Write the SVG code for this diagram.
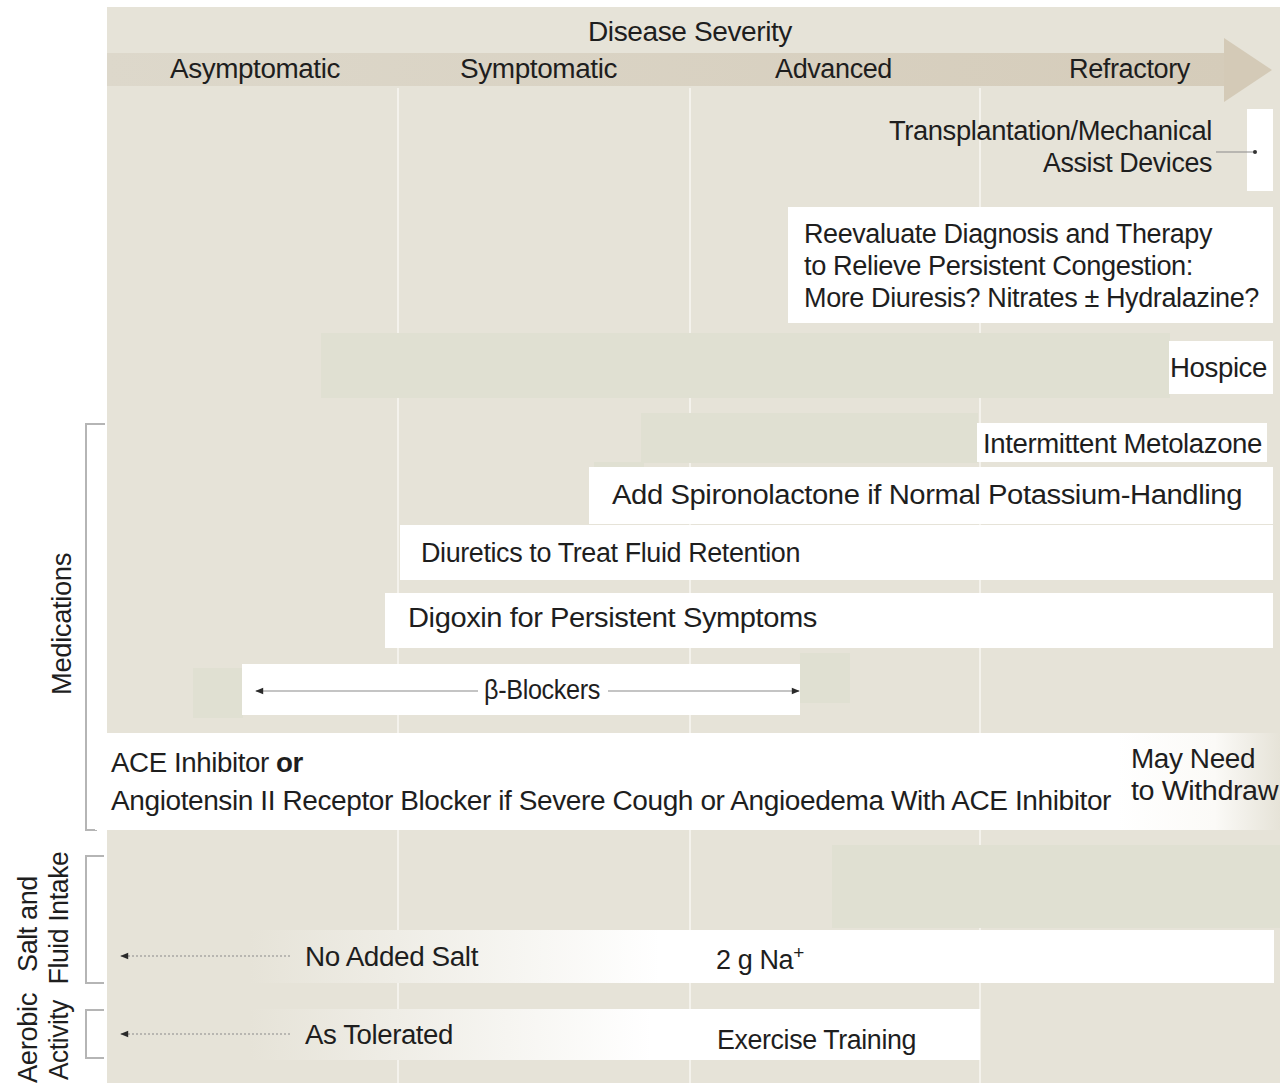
<svg xmlns="http://www.w3.org/2000/svg" width="1280" height="1083" viewBox="0 0 1280 1083">
<defs>
<style>
text{font-family:"Liberation Sans",Arial,Helvetica,sans-serif;font-size:27px;fill:#1e1e1e;letter-spacing:-0.4px}
.grid{stroke:#f4f2ec;stroke-width:2}
.band{fill:#e0e0d2}
.box{fill:#ffffff}
.br{fill:none;stroke:#b5b5b5;stroke-width:2}
.conn{fill:none;stroke:#8a8a8a;stroke-width:1.2}
.dot{fill:none;stroke:#8a8a8a;stroke-width:1.2;stroke-dasharray:2 2}
</style>
<linearGradient id="hdr" x1="0" x2="1" y1="0" y2="0">
<stop offset="0" stop-color="#ddd8cb"/><stop offset="1" stop-color="#d5ccba"/>
</linearGradient>
<linearGradient id="fadeL" x1="0" x2="1" y1="0" y2="0">
<stop offset="0" stop-color="#e6e3d8"/><stop offset="0.4" stop-color="#ffffff"/><stop offset="1" stop-color="#ffffff"/>
</linearGradient>
<linearGradient id="fadeL2" x1="0" x2="1" y1="0" y2="0">
<stop offset="0" stop-color="#e6e3d8"/><stop offset="0.55" stop-color="#ffffff"/><stop offset="1" stop-color="#ffffff"/>
</linearGradient>
<linearGradient id="fadeR" x1="0" x2="1" y1="0" y2="0">
<stop offset="0" stop-color="#ffffff"/><stop offset="0.6" stop-color="#fbfaf7"/><stop offset="1" stop-color="#e6e3d8"/>
</linearGradient>
<marker id="ah" viewBox="0 0 10 10" refX="9" refY="5" markerWidth="11" markerHeight="8" markerUnits="userSpaceOnUse" orient="auto-start-reverse">
<path d="M0,1 L10,5 L0,9 Z" fill="#2a2a2a"/>
</marker>
</defs>

<!-- background -->
<rect x="0" y="0" width="1280" height="1083" fill="#ffffff"/>
<rect x="107" y="7" width="1173" height="1076" fill="#e6e3d8"/>

<!-- header arrow -->
<g id="severity-arrow">
<rect x="107" y="53" width="1120" height="33" fill="url(#hdr)"/>
<polygon points="1224,38 1272,70 1224,102" fill="#d4cab7"/>
<text x="690" y="41" text-anchor="middle" textLength="204" lengthAdjust="spacingAndGlyphs">Disease Severity</text>
<text x="170" y="78" textLength="170" lengthAdjust="spacingAndGlyphs">Asymptomatic</text>
<text x="460" y="78" textLength="157" lengthAdjust="spacingAndGlyphs">Symptomatic</text>
<text x="775" y="78" textLength="117" lengthAdjust="spacingAndGlyphs">Advanced</text>
<text x="1069" y="78" textLength="121" lengthAdjust="spacingAndGlyphs">Refractory</text>
</g>

<!-- grid lines -->
<g id="grid">
<line class="grid" x1="398" y1="88" x2="398" y2="1083"/>
<line class="grid" x1="690" y1="88" x2="690" y2="1083"/>
<line class="grid" x1="980" y1="88" x2="980" y2="1083"/>
</g>

<!-- side labels -->
<g id="medications-label">
<polyline class="br" points="105,424 86,424 86,830 97,830"/>
<text transform="translate(71,624) rotate(-90)" text-anchor="middle" textLength="142" lengthAdjust="spacingAndGlyphs">Medications</text>
</g>
<g id="salt-label">
<polyline class="br" points="104,856 86,856 86,983 104,983"/>
<text transform="translate(37,924) rotate(-90)" text-anchor="middle" textLength="96" lengthAdjust="spacingAndGlyphs">Salt and</text>
<text transform="translate(68,918) rotate(-90)" text-anchor="middle" textLength="133" lengthAdjust="spacingAndGlyphs">Fluid Intake</text>
</g>
<g id="aerobic-label">
<polyline class="br" points="104,1010 86,1010 86,1058 104,1058"/>
<text transform="translate(37,1038) rotate(-90)" text-anchor="middle" textLength="90" lengthAdjust="spacingAndGlyphs">Aerobic</text>
<text transform="translate(68,1040) rotate(-90)" text-anchor="middle" textLength="80" lengthAdjust="spacingAndGlyphs">Activity</text>
</g>

<!-- nodes -->
<g id="transplantation">
<rect class="box" x="1247" y="109" width="26" height="82"/>
<text x="1212" y="140" text-anchor="end" textLength="323" lengthAdjust="spacingAndGlyphs">Transplantation/Mechanical</text>
<text x="1212" y="172" text-anchor="end" textLength="169" lengthAdjust="spacingAndGlyphs">Assist Devices</text>
</g>

<g id="reevaluate">
<rect class="box" x="788" y="207" width="485" height="116"/>
<text x="804" y="243" textLength="408" lengthAdjust="spacingAndGlyphs">Reevaluate Diagnosis and Therapy</text>
<text x="804" y="275" textLength="389" lengthAdjust="spacingAndGlyphs">to Relieve Persistent Congestion:</text>
<text x="804" y="307" textLength="455" lengthAdjust="spacingAndGlyphs">More Diuresis? Nitrates ± Hydralazine?</text>
</g>

<g id="hospice">
<rect class="band" x="321" y="333" width="849" height="65"/>
<rect class="box" x="1169" y="341" width="104" height="53"/>
<text x="1170" y="377" textLength="97" lengthAdjust="spacingAndGlyphs">Hospice</text>
</g>

<g id="metolazone">
<rect class="band" x="641" y="413" width="337" height="50"/>
<rect class="band" x="594" y="462" width="50" height="6"/>
<rect class="box" x="977" y="423" width="290" height="39"/>
<text x="983" y="453" textLength="279" lengthAdjust="spacingAndGlyphs">Intermittent Metolazone</text>
</g>

<g id="spironolactone">
<rect class="box" x="589" y="467" width="684" height="57"/>
<text x="612" y="504" textLength="630" lengthAdjust="spacingAndGlyphs">Add Spironolactone if Normal Potassium-Handling</text>
</g>

<g id="diuretics">
<rect class="box" x="400" y="525" width="873" height="55"/>
<text x="421" y="562" textLength="379" lengthAdjust="spacingAndGlyphs">Diuretics to Treat Fluid Retention</text>
</g>

<g id="digoxin">
<rect class="box" x="385" y="593" width="888" height="55"/>
<text x="408" y="627" textLength="409" lengthAdjust="spacingAndGlyphs">Digoxin for Persistent Symptoms</text>
</g>

<g id="beta-blockers">
<rect class="band" x="193" y="668" width="50" height="50"/>
<rect class="band" x="800" y="653" width="50" height="50"/>
<rect class="box" x="242" y="664" width="558" height="51"/>
<text x="542" y="699" text-anchor="middle" textLength="116" lengthAdjust="spacingAndGlyphs">β-Blockers</text>
</g>

<g id="ace-inhibitor">
<rect class="box" x="95" y="733" width="1023" height="97"/>
<rect x="1117" y="733" width="163" height="97" fill="url(#fadeR)"/>
<text x="111" y="772" textLength="192" lengthAdjust="spacingAndGlyphs">ACE Inhibitor <tspan font-weight="bold">or</tspan></text>
<text x="111" y="810" textLength="1000" lengthAdjust="spacingAndGlyphs">Angiotensin II Receptor Blocker if Severe Cough or Angioedema With ACE Inhibitor</text>
<text x="1131" y="768" textLength="124" lengthAdjust="spacingAndGlyphs">May Need</text>
<text x="1131" y="800" textLength="147" lengthAdjust="spacingAndGlyphs">to Withdraw</text>
</g>

<g id="salt">
<rect class="band" x="832" y="845" width="448" height="83"/>
<rect x="250" y="930" width="1024" height="53" fill="url(#fadeL)"/>
<text x="305" y="966" textLength="173" lengthAdjust="spacingAndGlyphs">No Added Salt</text>
<text x="716" y="969">2 g Na<tspan dy="-10" font-size="19">+</tspan></text>
</g>

<g id="aerobic">
<rect x="250" y="1009" width="730" height="51" fill="url(#fadeL2)"/>
<text x="305" y="1044" textLength="148" lengthAdjust="spacingAndGlyphs">As Tolerated</text>
<text x="717" y="1049" textLength="199" lengthAdjust="spacingAndGlyphs">Exercise Training</text>
</g>

<!-- connectors -->
<g id="connectors">
<line class="conn" x1="1216" y1="152" x2="1254" y2="152"/>
<circle cx="1255" cy="152" r="2" fill="#333"/>
<line class="conn" x1="478" y1="691" x2="256" y2="691" marker-end="url(#ah)"/>
<line class="conn" x1="608" y1="691" x2="799" y2="691" marker-end="url(#ah)"/>
<line class="dot" x1="290" y1="956" x2="121" y2="956" marker-end="url(#ah)"/>
<line class="dot" x1="290" y1="1034" x2="121" y2="1034" marker-end="url(#ah)"/>
</g>
</svg>
